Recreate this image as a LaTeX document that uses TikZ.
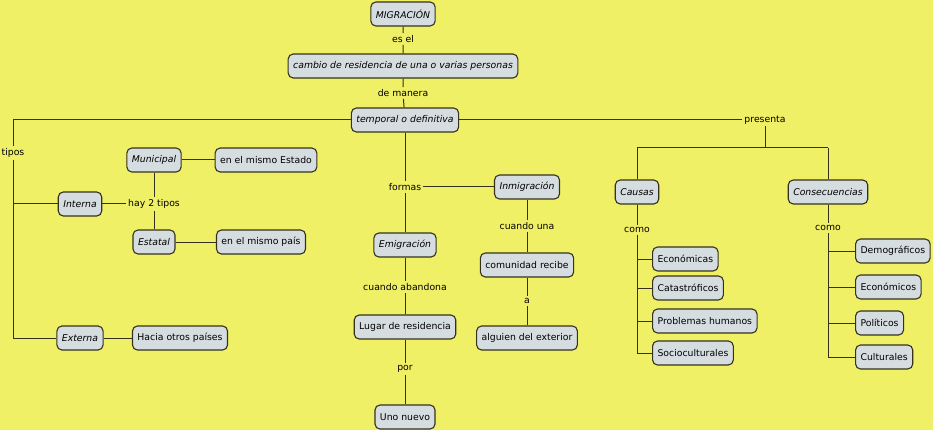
\documentclass[tikz,border=0pt]{standalone}
\usepackage{fontspec}
\setmainfont{DejaVu Sans}
\definecolor{bg}{RGB}{240,240,102}
\definecolor{boxfill}{RGB}{214,221,224}
\definecolor{ln}{RGB}{52,50,30}
\begin{document}
\begin{tikzpicture}[x=1pt,y=-1pt,
 box/.style={draw=ln, fill=boxfill, rounded corners=5pt, line width=1.1pt, font=\fontsize{9.3}{11}\selectfont, inner xsep=5pt, minimum height=24pt},
 ibox/.style={box, font=\fontsize{9.3}{11}\selectfont\itshape},
 lab/.style={font=\fontsize{9.3}{11}\selectfont, inner sep=2pt},
 conn/.style={draw=ln, line width=1pt}]
\fill[bg] (0,0) rectangle (933,430);
\useasboundingbox (0,0) rectangle (933,430);
% top chain
\node[ibox] (mig) at (403,14) {MIGRACIÓN};
\node[lab] (esel) at (403,39) {es el};
\node[ibox] (cambio) at (403,66) {cambio de residencia de una o varias personas};
\node[lab] (manera) at (403,93) {de manera};
\node[ibox] (temp) at (405,120) {temporal o definitiva};
% left
\node[lab] (tipos) at (13,153) {tipos};
\coordinate (cInt) at (13,204);
\coordinate (cExt) at (13,338);
\node[ibox] (int) at (80,204) {Interna};
\node[lab] (hay) at (154,204) {hay 2 tipos};
\node[ibox] (mun) at (154,160) {Municipal};
\node[box] (mest) at (266,160) {en el mismo Estado};
\node[ibox] (est) at (154,242) {Estatal};
\node[box] (mpais) at (261,242) {en el mismo país};
\node[ibox] (ext) at (80,338) {Externa};
\node[box] (hacia) at (180,338) {Hacia otros países};
% middle
\node[lab] (formas) at (405,187) {formas};
\node[ibox] (inm) at (527,187) {Inmigración};
\node[ibox] (emi) at (405,245) {Emigración};
\node[lab] (cab) at (405,287) {cuando abandona};
\node[box] (lugar) at (405,327) {Lugar de residencia};
\node[lab] (por) at (405,369) {por};
\node[box] (uno) at (405,417) {Uno nuevo};
\node[lab] (cuna) at (527,226) {cuando una};
\node[box] (com) at (527,265) {comunidad recibe};
\node[lab] (a) at (527,301) {a};
\node[box] (alg) at (527,338) {alguien del exterior};
% right
\node[lab] (pres) at (765,120) {presenta};
\coordinate (cSplit) at (765,148);
\coordinate (cCa) at (637,148);
\coordinate (cCo) at (828,148);
\node[ibox] (causas) at (637,192) {Causas};
\node[lab] (como1) at (637,230) {como};
\coordinate (tr1) at (637,353);
\node[box,anchor=west] (eca) at (652,259) {Económicas};
\node[box,anchor=west] (cat) at (652,288) {Catastróficos};
\node[box,anchor=west] (prob) at (652,321) {Problemas humanos};
\node[box,anchor=west] (soc) at (652,353) {Socioculturales};
\node[ibox] (cons) at (828,192) {Consecuencias};
\node[lab] (como2) at (828,228) {como};
\coordinate (tr2) at (828,357);
\node[box,anchor=west] (dem) at (855,251) {Demográficos};
\node[box,anchor=west] (eco) at (855,287) {Económicos};
\node[box,anchor=west] (pol) at (855,323) {Políticos};
\node[box,anchor=west] (cul) at (855,357) {Culturales};
% connectors
\draw[conn] (mig) -- (esel) (esel) -- (cambio) (cambio) -- (manera) (manera) -- (temp);
\draw[conn] (temp.west) -| (tipos.north);
\draw[conn] (tipos.south) -- (cExt) -- (ext.west);
\draw[conn] (cInt) -- (int.west);
\draw[conn] (int.east) -- (hay.west);
\draw[conn] (hay) -- (mun) (hay) -- (est);
\draw[conn] (mun) -- (mest) (est) -- (mpais) (ext) -- (hacia);
\draw[conn] (temp) -- (formas) (formas) -- (emi) (emi) -- (cab) (cab) -- (lugar) (lugar) -- (por) (por) -- (uno);
\draw[conn] (formas) -- (inm) (inm) -- (cuna) (cuna) -- (com) (com) -- (a) (a) -- (alg);
\draw[conn] (temp.east) -- (pres.west);
\draw[conn] (pres.south) -- (cSplit);
\draw[conn] (cCa) -- (cCo);
\draw[conn] (cCa) -- (causas);
\draw[conn] (cCo) -- (cons);
\draw[conn] (causas) -- (como1);
\draw[conn] (como1.south -| tr1) -- (tr1) -- (soc.west);
\draw[conn] (eca.west -| tr1) -- (eca.west);
\draw[conn] (cat.west -| tr1) -- (cat.west);
\draw[conn] (prob.west -| tr1) -- (prob.west);
\draw[conn] (cons) -- (como2);
\draw[conn] (como2.south -| tr2) -- (tr2) -- (cul.west);
\draw[conn] (dem.west -| tr2) -- (dem.west);
\draw[conn] (eco.west -| tr2) -- (eco.west);
\draw[conn] (pol.west -| tr2) -- (pol.west);
\end{tikzpicture}
\end{document}
